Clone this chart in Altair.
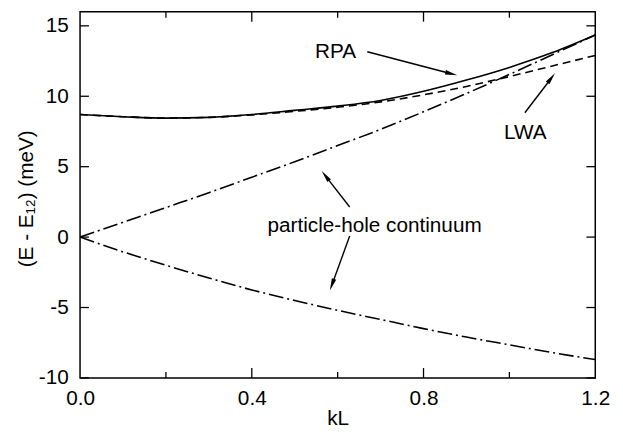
import math
import altair as alt
import pandas as pd

# ---- data ----
kl = [0.0, 0.1, 0.2, 0.3, 0.4, 0.5, 0.6, 0.7, 0.8, 0.9, 1.0, 1.1, 1.2]
rpa = [8.7, 8.55, 8.45, 8.5, 8.7, 9.0, 9.3, 9.7, 10.35, 11.15, 12.05, 13.1, 14.35]
lwa = [8.7, 8.55, 8.45, 8.5, 8.68, 8.93, 9.22, 9.6, 10.1, 10.7, 11.4, 12.15, 12.9]
upper = [0.0, 1.05, 2.1, 3.15, 4.25, 5.35, 6.5, 7.65, 8.9, 10.2, 11.55, 12.95, 14.35]
lower = [0.0, -1.05, -2.0, -2.9, -3.75, -4.5, -5.2, -5.85, -6.5, -7.1, -7.65, -8.2, -8.7]

label_text = ["RPA", "LWA", "particle-hole continuum"]
label_x = [0.595, 1.037, 0.686]
label_y = [13.16, 7.36, 0.81]

arrow_x0 = [0.669, 1.036, 0.628, 0.628]
arrow_y0 = [13.16, 8.83, 2.14, 0.07]
arrow_x1 = [0.878, 1.106, 0.563, 0.582]
arrow_y1 = [11.49, 11.62, 4.68, -3.78]

x_labels = [0.0, 0.4, 0.8, 1.2]
x_major = [0.4, 0.8]
x_minor = [0.2, 0.6, 1.0]
y_ticks = [-10, -5, 0, 5, 10, 15]

# ---- layout ----
W, H = 522, 371
XDOM = [0, 1.2]
YDOM = [-10, 16]
FONT = "Liberation Sans"

xs = alt.Scale(domain=XDOM, nice=False, zero=False)
ys = alt.Scale(domain=YDOM, nice=False, zero=False)


def to_px(x, y):
    return (x - XDOM[0]) / (XDOM[1] - XDOM[0]) * W, (YDOM[1] - y) / (YDOM[1] - YDOM[0]) * H


def to_data(px, py):
    return XDOM[0] + px / W * (XDOM[1] - XDOM[0]), YDOM[1] - py / H * (YDOM[1] - YDOM[0])


curves = pd.DataFrame({"kL": kl, "rpa": rpa, "lwa": lwa, "upper": upper, "lower": lower})

xenc = alt.X("kL:Q", scale=xs, title="kL",
             axis=alt.Axis(values=x_labels, format=".1f", tickSize=0, domain=False, grid=False,
                           labelFlush=False, labelFontSize=21, labelPadding=10, labelFont=FONT,
                           labelColor="black",
                           titleFont=FONT, titleFontSize=21, titleFontWeight="normal", titleColor="black",
                           titleY=41, titleBaseline="middle"))


def curve(col, dash):
    mk = dict(color="black", strokeWidth=1.6, interpolate="monotone")
    if dash:
        mk["strokeDash"] = dash
    return alt.Chart(curves).mark_line(**mk).encode(
        x=xenc,
        y=alt.Y(f"{col}:Q", scale=ys, title="(E - E₁₂) (meV)",
                axis=alt.Axis(values=y_ticks, tickSize=0, domain=False, grid=False,
                              labelExpr="'' + datum.value",
                              labelFontSize=21, labelPadding=12, labelFont=FONT, labelColor="black",
                              titleFont=FONT, titleFontSize=21, titleFontWeight="normal",
                              titleColor="black", titleX=-54, titleY=189,
                              titleBaseline="middle", titleAlign="center")),
    )


layers = [
    curve("rpa", None),
    curve("lwa", [8, 5]),
    curve("upper", [15, 4, 2, 4]),
    curve("lower", [15, 4, 2, 4]),
]

# annotations
lab = pd.DataFrame({"t": label_text, "x": label_x, "y": label_y})
layers.append(alt.Chart(lab).mark_text(font=FONT, fontSize=21, color="black",
                                        align="center", baseline="middle").encode(
    x=alt.X("x:Q", scale=xs), y=alt.Y("y:Q", scale=ys), text="t:N"))

# arrows
rows = []
for x0, y0, x1, y1 in zip(arrow_x0, arrow_y0, arrow_x1, arrow_y1):
    p0 = to_px(x0, y0)
    p1 = to_px(x1, y1)
    dx, dy = p1[0] - p0[0], p1[1] - p0[1]
    L = math.hypot(dx, dy)
    ux, uy = dx / L, dy / L
    cx, cy = to_data(p1[0] - 6 * ux, p1[1] - 6 * uy)
    ex, ey = to_data(p1[0] - 8 * ux, p1[1] - 8 * uy)
    ang = math.degrees(math.atan2(ux, -uy)) % 360
    rows.append({"x0": x0, "y0": y0, "x1": ex, "y1": ey, "cx": cx, "cy": cy, "ang": ang})
arr = pd.DataFrame(rows)

layers.append(alt.Chart(arr).mark_rule(color="black", strokeWidth=1.4).encode(
    x=alt.X("x0:Q", scale=xs), y=alt.Y("y0:Q", scale=ys), x2="x1:Q", y2="y1:Q"))
layers.append(alt.Chart(arr).mark_point(shape="M0,-1L0.38,1L-0.38,1Z", filled=True, color="black",
                                        opacity=1, size=150).encode(
    x=alt.X("cx:Q", scale=xs), y=alt.Y("cy:Q", scale=ys), angle=alt.Angle("ang:Q", scale=None)))

# inward ticks
xt_major = pd.DataFrame({"v": x_major})
xt_minor = pd.DataFrame({"v": x_minor})
yt = pd.DataFrame({"v": y_ticks})
for df, ln in ((xt_major, 10), (xt_minor, 6)):
    layers.append(alt.Chart(df).mark_rule(color="black", strokeWidth=1.3).encode(
        x=alt.X("v:Q", scale=xs), y=alt.value(H), y2=alt.value(H - ln)))
    layers.append(alt.Chart(df).mark_rule(color="black", strokeWidth=1.3).encode(
        x=alt.X("v:Q", scale=xs), y=alt.value(0), y2=alt.value(ln)))
layers.append(alt.Chart(yt).mark_rule(color="black", strokeWidth=1.3).encode(
    y=alt.Y("v:Q", scale=ys), x=alt.value(0), x2=alt.value(9)))
layers.append(alt.Chart(yt).mark_rule(color="black", strokeWidth=1.3).encode(
    y=alt.Y("v:Q", scale=ys), x=alt.value(W), x2=alt.value(W - 9)))

chart = alt.layer(*layers).properties(
    width=W, height=H,
    autosize=alt.AutoSizeParams(type="none"),
    padding={"left": 73, "top": 1, "right": 20, "bottom": 54},
    background="white",
).configure_view(stroke="black", strokeWidth=1.5)

chart.save("out.html", embed_options={"renderer": "svg", "actions": False})
